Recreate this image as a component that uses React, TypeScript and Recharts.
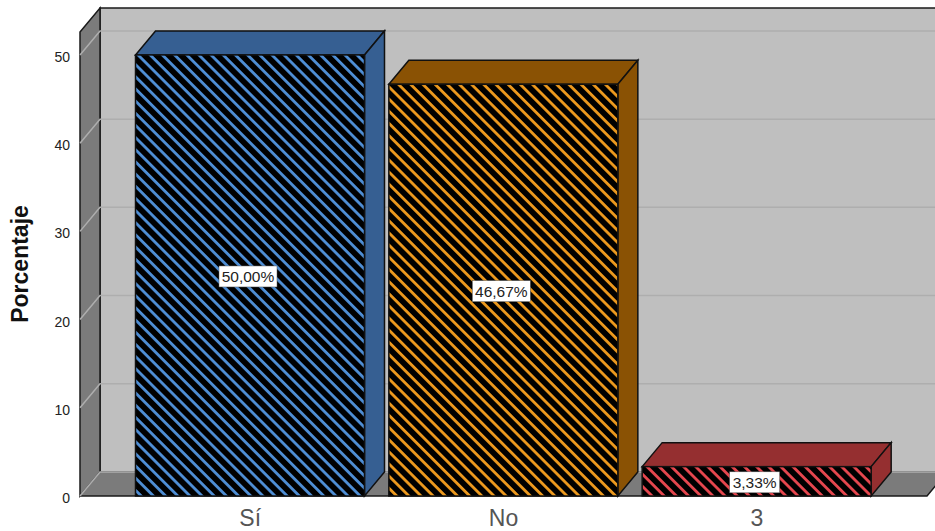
import React from 'react';
import { BarChart, Bar, XAxis, YAxis, ReferenceArea, LabelList } from 'recharts';

const categories = ['Sí', 'No', '3'];
const percentages = [50, 46.67, 3.33];
const valueLabels = ['50,00%', '46,67%', '3,33%'];
const yTicks = [0, 10, 20, 30, 40, 50];

const faceColors = ['#365f92', '#8a5204', '#952f30'];
const hatchColors = ['#4f8fd6', '#ee9a1e', '#e8474f'];

const DEPTH_X = 20;
const DEPTH_Y = 24;
const PAD = 43.5;
const FONT = '"Liberation Sans", Arial, sans-serif';

const data = categories.map((name, i) => ({ name, value: percentages[i], label: valueLabels[i] }));

// back wall, left wall and floor of the 3D box
function Walls({ x: x0, y, width: w0, height }: any) {
  const x = x0 - PAD;
  const width = w0 + PAD * 2;
  const bottom = y + height;
  const right = x + width;
  return (
    <g>
      <rect x={x + DEPTH_X} y={y - DEPTH_Y} width={width} height={height} fill="#bfbfbf" stroke="#1a1a1a" strokeWidth={1.5} />
      <polygon
        points={`${x},${y} ${x + DEPTH_X},${y - DEPTH_Y} ${x + DEPTH_X},${bottom - DEPTH_Y} ${x},${bottom}`}
        fill="#7b7b7b"
        stroke="#1a1a1a"
        strokeWidth={1.5}
      />
      <polygon
        points={`${x},${bottom} ${x + DEPTH_X},${bottom - DEPTH_Y} ${right + DEPTH_X},${bottom - DEPTH_Y} ${right},${bottom}`}
        fill="#7b7b7b"
      />
      <path d={`M${x},${bottom} L${right},${bottom} L${right + DEPTH_X},${bottom - DEPTH_Y}`} fill="none" stroke="#1a1a1a" strokeWidth={1.5} />
    </g>
  );
}

// zero-height reference area, drawn as a gridline running along side wall and back wall
function GridLine({ x: x0, y, width: w0 }: any) {
  const x = x0 - PAD;
  const width = w0 + PAD * 2;
  return (
    <polyline
      points={`${x},${y} ${x + DEPTH_X},${y - DEPTH_Y} ${x + width + DEPTH_X},${y - DEPTH_Y}`}
      fill="none"
      stroke="#aeaeae"
      strokeWidth={1.5}
    />
  );
}

function Box3D({ x, y, width, height, index }: any) {
  const id = `hatch-${index}`;
  const right = x + width;
  const bottom = y + height;
  return (
    <g>
      <defs>
        <pattern id={id} patternUnits="userSpaceOnUse" width={8.6} height={8.6} patternTransform="rotate(45)">
          <rect width={8.6} height={8.6} fill="#000" />
          <rect width={8.6} height={2.8} fill={hatchColors[index]} />
        </pattern>
      </defs>
      <polygon
        points={`${x},${y} ${x + DEPTH_X},${y - DEPTH_Y} ${right + DEPTH_X},${y - DEPTH_Y} ${right},${y}`}
        fill={faceColors[index]}
        stroke="#111"
        strokeWidth={1.5}
      />
      <polygon
        points={`${right},${y} ${right + DEPTH_X},${y - DEPTH_Y} ${right + DEPTH_X},${bottom - DEPTH_Y} ${right},${bottom}`}
        fill={faceColors[index]}
        stroke="#111"
        strokeWidth={1.5}
      />
      <rect x={x} y={y} width={width} height={height} fill={`url(#${id})`} stroke="#111" strokeWidth={1.5} />
    </g>
  );
}

function ValueBox({ x, y, width, height, value }: any) {
  const cx = x + width / 2 - 2;
  const cy = y + height / 2 + 1;
  const w = String(value).length > 5 ? 58 : 50;
  return (
    <g>
      <rect x={cx - w / 2} y={cy - 10.5} width={w} height={21} fill="#fff" stroke="#555" strokeWidth={0.5} />
      <text x={cx} y={cy + 5.5} textAnchor="middle" fontFamily={FONT} fontSize={15.5} fill="#222">
        {value}
      </text>
    </g>
  );
}

export default function App() {
  return (
    <div style={{ position: 'absolute', left: 0, top: 0, width: 935, height: 531, overflow: 'hidden', background: '#fff' }}>
      <BarChart
        width={935}
        height={531}
        data={data}
        margin={{ top: 32, right: 8, bottom: 5, left: 0 }}
        barSize={229}
      >
        <ReferenceArea y1={0} y2={52.6} shape={<Walls />} />
        {yTicks.map((t) => (
          <ReferenceArea key={t} y1={t} y2={t} shape={<GridLine />} />
        ))}
        <XAxis
          dataKey="name"
          axisLine={false}
          tickLine={false}
          padding={{ left: PAD, right: PAD }}
          height={30}
          tick={{ fontFamily: FONT, fontSize: 23, fill: '#555' }}
          tickMargin={8}
          interval={0}
        />
        <YAxis
          domain={[0, 52.6]}
          ticks={yTicks}
          width={80}
          axisLine={false}
          tickLine={false}
          tickMargin={4}
          tick={{ fontFamily: FONT, fontSize: 14, fill: '#222', dy: 2 }}
          label={{
            value: 'Porcentaje',
            angle: -90,
            position: 'insideLeft',
            offset: 20,
            style: { fontFamily: FONT, fontSize: 23, fontWeight: 700, fill: '#111', textAnchor: 'middle' },
          }}
        />
        <Bar dataKey="value" shape={<Box3D />} isAnimationActive={false}>
          <LabelList dataKey="label" content={<ValueBox />} />
        </Bar>
      </BarChart>
    </div>
  );
}
